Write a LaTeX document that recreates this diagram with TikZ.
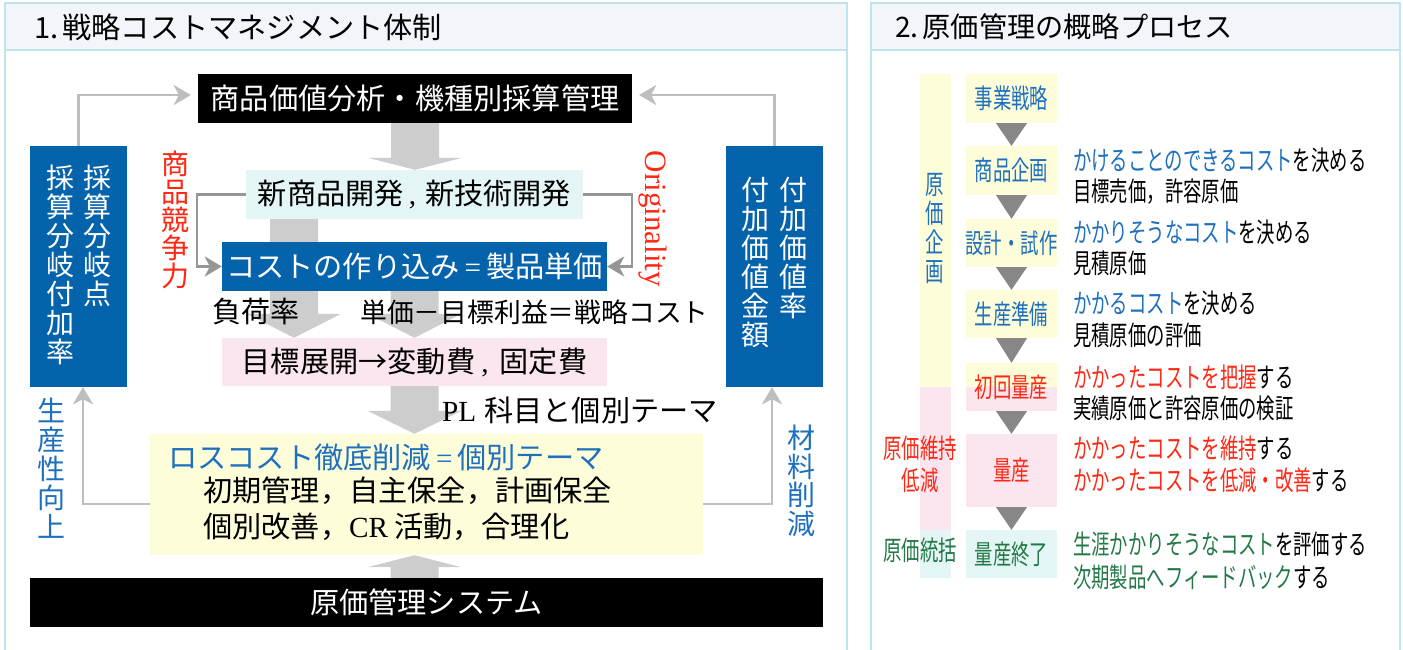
\documentclass[tikz,border=0pt]{standalone}
\usepackage{fontspec}
\setmainfont{Noto Sans CJK JP}
\newfontfamily\nar[FakeStretch=0.68]{Noto Sans CJK JP}
\newfontfamily\ser{Liberation Serif}
\usetikzlibrary{arrows.meta,calc}
\pgfdeclarelayer{bg}
\pgfsetlayers{bg,main}
\definecolor{blueBox}{RGB}{5,99,172}
\definecolor{blueTxt}{RGB}{30,112,190}
\definecolor{redTxt}{RGB}{255,40,20}
\definecolor{greenTxt}{RGB}{35,120,70}
\definecolor{frameC}{RGB}{190,228,238}
\definecolor{titleF}{RGB}{242,246,251}
\definecolor{yF}{RGB}{254,253,218}
\definecolor{pF}{RGB}{251,230,240}
\definecolor{cF}{RGB}{228,245,246}
\definecolor{bigG}{RGB}{205,205,205}
\definecolor{connG}{RGB}{190,190,190}
\definecolor{connD}{RGB}{150,150,150}
\definecolor{triG}{RGB}{135,135,135}
\newcommand\ftmain{\fontsize{29.2}{30}\selectfont}
\newcommand\ftnar{\nar\fontsize{27}{28}\selectfont}
\newcommand\bigarrow[3]{\fill[bigG] let \p1=(#1), \p2=(#2) in
  ({\x1-24pt},{\y1}) -- ({\x1+24pt},{\y1}) -- ({\x1+24pt},{\y2+(#3)}) -- ({\x1+47pt},{\y2+(#3)}) -- ({\x1},{\y2})
  -- ({\x1-47pt},{\y2+(#3)}) -- ({\x1-24pt},{\y2+(#3)}) -- cycle;}
\newcommand\tridown[2]{\fill[triG] let \p1=(#1), \p2=(#2) in
  ({\x1-15.5pt},{\y1}) -- ({\x1+15.5pt},{\y1}) -- ({\x1},{\y2}) -- cycle;}
\begin{document}
\begin{tikzpicture}[x=1pt,y=-1pt,
  frameline/.style={draw=frameC, line width=2.5pt},
  boxbase/.style={inner sep=0pt, font=\ftmain, text=white},
  vtext/.style={inner sep=0pt, align=center, font=\fontsize{28}{29}\selectfont},
  lab/.style={inner sep=0pt, anchor=west, font=\ftmain},
  lconn/.style={draw=connG, line width=2.5pt, -{Stealth[length=17pt,width=20pt,inset=5pt]}},
  dconn/.style={draw=connD, line width=2.5pt, -{Stealth[length=17pt,width=20pt,inset=5pt]}},
  pbox/.style={inner sep=0pt, minimum width=91pt, font=\ftnar},
  rt/.style={inner sep=0pt, anchor=west, font=\ftnar}]
\useasboundingbox (0,0) rectangle (1403,649);
\begin{pgfonlayer}{bg}
  \fill[white] (0,0) rectangle (1403,649);
  \draw[frameline, fill=white] (5,3) rectangle (847,700);
  \draw[frameline, fill=titleF] (5,3) rectangle (847,50);
  \draw[frameline, fill=white] (871,3) rectangle (1400,700);
  \draw[frameline, fill=titleF] (871,3) rectangle (1400,50);
\end{pgfonlayer}
% titles
\node[lab, font=\fontsize{29.2}{30}\selectfont] (t1) at (34,27) {1.\hspace{4pt}戦略コストマネジメント体制};
\node[lab, font=\fontsize{28.2}{30}\selectfont] (t2) at (895,27) {2.\hspace{4pt}原価管理の概略プロセス};
% ---------- left panel ----------
\node[boxbase, fill=black, minimum width=434pt, minimum height=49pt] (bv) at (415,98.5) {商品価値分析・機種別採算管理};
\node[boxbase, fill=cF, text=black, minimum width=337pt, minimum height=49pt] (nd) at (414.5,194.5) {新商品開発\hspace{5pt}{\ser ,}\hspace{9pt}新技術開発};
\node[boxbase, fill=blueBox, minimum width=385pt, minimum height=49pt] (cb) at (414.5,266.5) {コストの作り込み\hspace{5pt}{\ser =}\hspace{5pt}製品単価};
\node[boxbase, fill=pF, text=black, minimum width=385pt, minimum height=48pt] (tg) at (414.5,362) {目標展開→変動費\hspace{6pt}{\ser ,}\hspace{11pt}固定費};
\node[inner sep=0pt, fill=yF, minimum width=553pt, minimum height=121pt] (yl) at (426.5,494.5) {};
\node[lab, text=blueTxt] (y1) at (168,457) {ロスコスト徹底削減\hspace{5pt}{\ser =}\hspace{5pt}個別テーマ};
\node[lab] (y2) at (203,491) {初期管理，自主保全，計画保全};
\node[lab] (y3) at (203,527) {個別改善，{\ser CR}\hspace{6pt}活動，合理化};
\node[boxbase, fill=black, minimum width=793pt, minimum height=49pt] (sys) at (426.5,602.5) {原価管理システム\hspace{19pt}};
\node[inner sep=0pt, fill=blueBox, minimum width=97pt, minimum height=241pt] (lb) at (78.5,266.5) {};
\node[inner sep=0pt, fill=blueBox, minimum width=97pt, minimum height=241pt] (rb) at (774.5,266.5) {};
\node[vtext, anchor=north, text=white] (lb1) at (97,165) {採\\算\\分\\岐\\点};
\node[vtext, anchor=north, text=white] (lb2) at (60,165) {採\\算\\分\\岐\\付\\加\\率};
\node[vtext, anchor=north, text=white] (rb1) at (793,177) {付\\加\\価\\値\\率};
\node[vtext, anchor=north, text=white] (rb2) at (755,177) {付\\加\\価\\値\\金\\額};
\node[vtext, text=redTxt, font=\fontsize{28}{28}\selectfont] (kk) at (175,220) {商\\品\\競\\争\\力};
\node[inner sep=0pt, rotate=-90, font=\ser\fontsize{31}{31}\selectfont, text=redTxt] (org) at (653,219) {Originality};
\node[vtext, text=blueTxt] (sk) at (51,468) {生\\産\\性\\向\\上};
\node[vtext, text=blueTxt, font=\fontsize{28}{28.5}\selectfont] (zr) at (801,481) {材\\料\\削\\減};
\node[inner sep=0pt, font=\fontsize{29}{30}\selectfont] (fk) at (255.5,312) {負荷率};
\node[lab, font=\fontsize{26.8}{28}\selectfont] (tk) at (360,312) {単価－目標利益＝戦略コスト};
\node[lab] (pl) at (442,410) {{\ser PL}\hspace{8pt}科目と個別テーマ};
% connectors
\draw[lconn] (lb.north) |- ([xshift=-7pt,yshift=3.5pt]bv.west);
\draw[lconn] (rb.north) |- ([xshift=7pt,yshift=3.5pt]bv.east);
\draw[dconn] (nd.west) -- ++(-49,0) |- (cb.west);
\draw[dconn] (nd.east) -- ++(49,0) |- (cb.east);
\draw[lconn] ([yshift=-9.5pt]yl.west) -| ([xshift=4.5pt]lb.south);
\draw[lconn] ([yshift=-9.5pt]yl.east) -| ([xshift=-2.5pt]rb.south);
\begin{pgfonlayer}{bg}
  \bigarrow{bv.south}{nd.north}{12pt}
  \bigarrow{$(nd.south)+(-120.5,0)$}{$(tg.north)+(-120.5,0)$}{24pt}
  \bigarrow{cb.south}{tg.north}{24pt}
  \bigarrow{tg.south}{tg.south |- yl.north}{23pt}
  \bigarrow{sys.north -| tg.south}{tg.south |- yl.south}{-12pt}
\end{pgfonlayer}
% ---------- right panel ----------
\fill[yF] (920,74) rectangle (951,387);
\fill[pF] (920,387) rectangle (951,530);
\fill[cF] (920,530) rectangle (951,578);
\node[pbox, fill=yF, text=blueTxt, minimum height=49pt] (s1) at (1011.5,98.5) {事業戦略};
\node[pbox, fill=yF, text=blueTxt, minimum height=49pt] (s2) at (1011.5,170.5) {商品企画};
\node[pbox, fill=yF, text=blueTxt, minimum height=48pt] (s3) at (1011.5,243) {設計・試作};
\node[pbox, fill=yF, text=blueTxt, minimum height=48pt] (s4) at (1011.5,314) {生産準備};
\node[pbox, fill=pF, text=redTxt, minimum height=48pt,
  path picture={\fill[yF] (path picture bounding box.north west) rectangle (path picture bounding box.east);}] (s5) at (1011.5,387) {初回量産};
\node[pbox, fill=pF, text=redTxt, minimum height=73pt] (s6) at (1011.5,470.5) {量産};
\node[pbox, fill=cF, text=greenTxt, minimum height=48pt] (s7) at (1011.5,554) {量産終了};
\tridown{s1.south}{s2.north}
\tridown{s2.south}{s3.north}
\tridown{s3.south}{s4.north}
\tridown{s4.south}{s5.north}
\tridown{s5.south}{s6.north}
\tridown{s6.south}{s7.north}
\node[inner sep=0pt, align=center, font=\nar\fontsize{27}{29}\selectfont, text=blueTxt] (b1) at (935,228) {原\\価\\企\\画};
\node[inner sep=0pt, align=center, font=\nar\fontsize{27}{32}\selectfont, text=redTxt] (b2) at (920,464) {原価維持\\低減};
\node[inner sep=0pt, font=\ftnar, text=greenTxt] (b3) at (920,550) {原価統括};
\node[rt] (r1) at (1073,160) {\textcolor{blueTxt}{かけることのできるコスト}を決める};
\node[rt] (r2) at (1073,192) {目標売価，許容原価};
\node[rt] (r3) at (1073,232) {\textcolor{blueTxt}{かかりそうなコスト}を決める};
\node[rt] (r4) at (1073,263) {見積原価};
\node[rt] (r5) at (1073,303) {\textcolor{blueTxt}{かかるコスト}を決める};
\node[rt] (r6) at (1073,335) {見積原価の評価};
\node[rt] (r7) at (1073,377) {\textcolor{redTxt}{かかったコストを把握}する};
\node[rt] (r8) at (1073,408) {実績原価と許容原価の検証};
\node[rt] (r9) at (1073,448) {\textcolor{redTxt}{かかったコストを維持}する};
\node[rt] (r10) at (1073,480) {\textcolor{redTxt}{かかったコストを低減・改善}する};
\node[rt] (r11) at (1073,544) {\textcolor{greenTxt}{生涯かかりそうなコスト}を評価する};
\node[rt] (r12) at (1073,577) {\textcolor{greenTxt}{次期製品へフィードバック}する};
\end{tikzpicture}
\end{document}
